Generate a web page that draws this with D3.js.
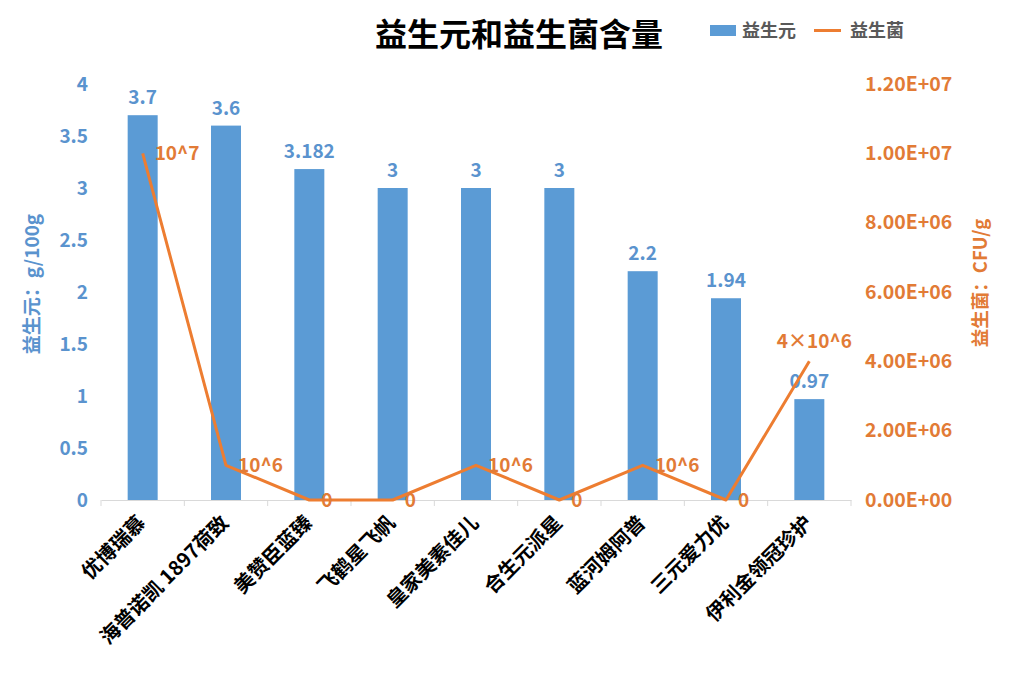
<!DOCTYPE html>
<html><head><meta charset="utf-8">
<script src="https://cdn.jsdelivr.net/npm/d3@7/dist/d3.min.js"></script>
<style>body{margin:0;background:#fff;}svg{display:block;}</style>
</head><body>
<svg id="c" width="1020" height="687"></svg>
<script>
const categories = ["优博瑞慕","海普诺凯 1897荷致","美赞臣蓝臻","飞鹤星飞帆","皇家美素佳儿","合生元派星","蓝河姆阿普","三元爱力优","伊利金领冠珍护"];
const prebiotic = [3.7, 3.6, 3.182, 3, 3, 3, 2.2, 1.94, 0.97];
const prebioticLabels = ["3.7","3.6","3.182","3","3","3","2.2","1.94","0.97"];
const probiotic = [1e7, 1e6, 0, 0, 1e6, 0, 1e6, 0, 4e6];
const probioticLabels = ["10^7","10^6","0","0","10^6","0","10^6","0","4×10^6"];
const leftTicks = [0, 0.5, 1, 1.5, 2, 2.5, 3, 3.5, 4];
const rightTicks = [0, 2e6, 4e6, 6e6, 8e6, 1e7, 1.2e7];

const BLUE = "#5B9BD5", BLUE_T = "#5A93CE", ORANGE = "#ED7D31", ORANGE_T = "#E27B36";
const FONT = "'Noto Sans CJK SC','Noto Sans',sans-serif";
const svg = d3.select("#c");
const L = 101, R = 851, T = 84, B = 500;

const x = d3.scaleBand().domain(categories).range([L, R]);
const yL = d3.scaleLinear().domain([0, 4]).range([B, T]);
const yR = d3.scaleLinear().domain([0, 1.2e7]).range([B, T]);

function sci(v){
  const [m, e] = v.toExponential(2).split("e");
  const n = parseInt(e, 10);
  return m + "E" + (n < 0 ? "-" : "+") + String(Math.abs(n)).padStart(2, "0");
}

// Title
svg.append("text").attr("x", 519).attr("y", 46).attr("text-anchor", "middle")
  .attr("font-family", FONT).attr("font-weight", 700).attr("font-size", 32).attr("fill", "#000")
  .text("益生元和益生菌含量");

// Legend
svg.append("rect").attr("x", 710).attr("y", 25).attr("width", 26).attr("height", 11).attr("fill", BLUE);
svg.append("text").attr("x", 742).attr("y", 37).attr("font-family", FONT).attr("font-weight", 700)
  .attr("font-size", 18).attr("fill", "#595959").text("益生元");
svg.append("line").attr("x1", 814).attr("x2", 841).attr("y1", 30.5).attr("y2", 30.5)
  .attr("stroke", ORANGE).attr("stroke-width", 3);
svg.append("text").attr("x", 850).attr("y", 37).attr("font-family", FONT).attr("font-weight", 700)
  .attr("font-size", 18).attr("fill", "#595959").text("益生菌");

// X axis
const xAxis = d3.axisBottom(x).tickSize(0).tickFormat("");
const gx = svg.append("g").attr("transform", `translate(0,${B})`).call(xAxis);
gx.select(".domain").attr("stroke", "#D9D9D9").attr("stroke-width", 1);
const bounds = categories.map(c => x(c)).concat([R]);
gx.selectAll(".bt").data(bounds).enter().append("line").attr("class", "bt")
  .attr("x1", d => d).attr("x2", d => d).attr("y1", 0).attr("y2", 6)
  .attr("stroke", "#D9D9D9");
gx.selectAll(".xl").data(categories).enter().append("text").attr("class", "xl")
  .attr("transform", d => `translate(${x(d) + x.bandwidth()/2 + 4},${24}) rotate(-45)`)
  .attr("text-anchor", "end").attr("font-family", FONT).attr("font-weight", 700)
  .attr("font-size", 20).attr("fill", "#000").text(d => d);

// Left axis
const gl = svg.append("g").attr("transform", `translate(${L},0)`)
  .call(d3.axisLeft(yL).tickValues(leftTicks).tickSize(0).tickPadding(13).tickFormat(d => String(d)));
gl.select(".domain").remove();
gl.selectAll("text").attr("font-family", FONT).attr("font-weight", 700).attr("font-size", 19).attr("fill", BLUE_T);

// Right axis
const gr = svg.append("g").attr("transform", `translate(${R},0)`)
  .call(d3.axisRight(yR).tickValues(rightTicks).tickSize(0).tickPadding(14).tickFormat(sci));
gr.select(".domain").remove();
gr.selectAll("text").attr("font-family", FONT).attr("font-weight", 700).attr("font-size", 19.5).attr("fill", ORANGE_T);

// Axis titles
svg.append("text").attr("transform", "translate(39,284) rotate(-90)").attr("text-anchor", "middle")
  .attr("font-family", FONT).attr("font-weight", 700).attr("font-size", 19).attr("fill", BLUE_T)
  .text("益生元：g/100g");
svg.append("text").attr("transform", "translate(987,283) rotate(-90)").attr("text-anchor", "middle")
  .attr("font-family", FONT).attr("font-weight", 700).attr("font-size", 18.5).attr("fill", ORANGE_T)
  .text("益生菌：CFU/g");

// Bars
const bw = 30;
svg.selectAll(".bar").data(categories).enter().append("rect")
  .attr("x", d => x(d) + x.bandwidth()/2 - bw/2)
  .attr("y", (d, i) => yL(prebiotic[i]))
  .attr("width", bw)
  .attr("height", (d, i) => B - yL(prebiotic[i]))
  .attr("fill", BLUE);
svg.selectAll(".bl").data(categories).enter().append("text")
  .attr("x", d => x(d) + x.bandwidth()/2)
  .attr("y", (d, i) => yL(prebiotic[i]) - 11)
  .attr("text-anchor", "middle").attr("font-family", FONT).attr("font-weight", 700)
  .attr("font-size", 19).attr("fill", BLUE_T).text((d, i) => prebioticLabels[i]);

// Line
const line = d3.line().x((d, i) => x(categories[i]) + x.bandwidth()/2).y(d => yR(d));
svg.append("path").datum(probiotic).attr("d", line).attr("fill", "none")
  .attr("stroke", ORANGE).attr("stroke-width", 3).attr("stroke-linejoin", "round");
svg.selectAll(".ll").data(categories).enter().append("text")
  .attr("x", (d, i) => i === categories.length - 1 ? x(d) + x.bandwidth()/2 + 5 : x(d) + x.bandwidth()/2 + 12)
  .attr("y", (d, i) => i === categories.length - 1 ? yR(probiotic[i]) - 13 : yR(probiotic[i]) + 7)
  .attr("text-anchor", (d, i) => i === categories.length - 1 ? "middle" : "start")
  .attr("font-family", FONT).attr("font-weight", 700).attr("font-size", 19).attr("fill", ORANGE_T)
  .text((d, i) => probioticLabels[i]);
</script>
</body></html>
